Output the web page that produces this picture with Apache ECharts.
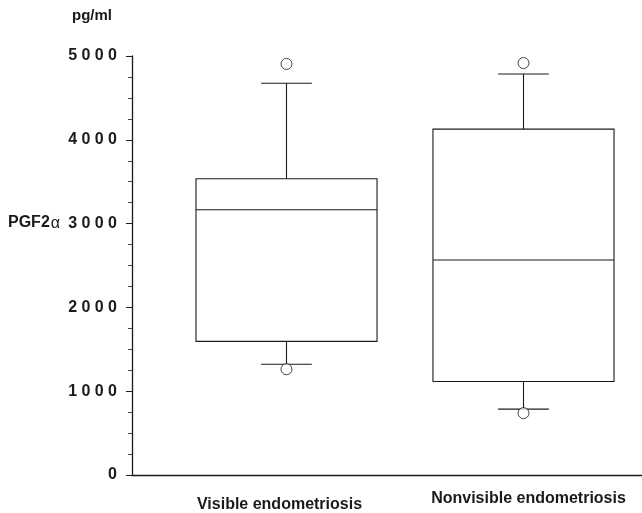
<!DOCTYPE html>
<html>
<head>
<meta charset="utf-8">
<script src="https://cdn.jsdelivr.net/npm/echarts@6/dist/echarts.min.js"></script>
<style>html,body{margin:0;padding:0;background:#fff}#c{width:642px;height:513px}</style>
</head>
<body>
<div id="c"></div>
<script>
// ---- data ----
var categories = ['Visible endometriosis', 'Nonvisible endometriosis'];
var whiskerLow  = [1313, 776];
var q1          = [1587, 1106];
var median      = [3160, 2560];
var q3          = [3532, 4125];
var whiskerHigh = [4674, 4785];
var outliers    = [[0, 4905], [0, 1253], [1, 4916], [1, 728]];
var yTicks      = [0, 1000, 2000, 3000, 4000, 5000];
var yUnit = 'pg/ml';
var yName = 'PGF2';

var FONT = '"Liberation Sans", Arial, Helvetica, sans-serif';
var INK = '#1a1a1a';

var boxData = categories.map(function (c, i) {
  return [i, whiskerLow[i], q1[i], median[i], q3[i], whiskerHigh[i]];
});

var chart = echarts.init(document.getElementById('c'), null, {renderer: 'canvas'});

function renderBox(params, api) {
  var i = api.value(0);
  var pLow = api.coord([i, api.value(1)]);
  var pQ1 = api.coord([i, api.value(2)]);
  var pMed = api.coord([i, api.value(3)]);
  var pQ3 = api.coord([i, api.value(4)]);
  var pHigh = api.coord([i, api.value(5)]);
  var band = api.size([1, 0])[0];
  var hw = band * 0.382;
  var cw = band * 0.107;
  var x = pMed[0];
  var st = {stroke: INK, lineWidth: 1.1, fill: null};
  return {
    type: 'group',
    children: [
      {type: 'rect', shape: {x: x - hw, y: pQ3[1], width: hw * 2, height: pQ1[1] - pQ3[1]}, style: {stroke: INK, lineWidth: 1.1, fill: '#fff'}},
      {type: 'line', shape: {x1: x - hw, y1: pMed[1], x2: x + hw, y2: pMed[1]}, style: st},
      {type: 'line', shape: {x1: x, y1: pQ3[1], x2: x, y2: pHigh[1]}, style: st},
      {type: 'line', shape: {x1: x - cw, y1: pHigh[1], x2: x + cw, y2: pHigh[1]}, style: st},
      {type: 'line', shape: {x1: x, y1: pQ1[1], x2: x, y2: pLow[1]}, style: st},
      {type: 'line', shape: {x1: x - cw, y1: pLow[1], x2: x + cw, y2: pLow[1]}, style: st}
    ]
  };
}

var option = {
  animation: false,
  backgroundColor: '#fff',
  grid: [
    {left: 132, right: 0, top: 56, bottom: 38},
    {left: 168, width: 476, top: 56, bottom: 38}
  ],
  xAxis: [
    {gridIndex: 0, type: 'value', min: 0, max: 1, axisLabel: {show: false}, axisTick: {show: false}, splitLine: {show: false},
     axisLine: {lineStyle: {color: INK, width: 1.3}}},
    {gridIndex: 1, type: 'category', data: [
        {value: categories[0], textStyle: {padding: [6, 14, 0, 0]}},
        {value: categories[1], textStyle: {padding: [0, 0, 0, 10]}}
      ],
     axisLine: {show: false}, axisTick: {show: false}, splitLine: {show: false},
     axisLabel: {interval: 0, hideOverlap: false, margin: 17, fontSize: 16, fontWeight: 'bold', color: INK, fontFamily: FONT, verticalAlign: 'top'}}
  ],
  yAxis: [
    {gridIndex: 0, type: 'value', min: yTicks[0], max: yTicks[yTicks.length - 1], interval: 1000,
     splitLine: {show: false},
     axisLine: {show: true, lineStyle: {color: INK, width: 1.3}},
     axisTick: {show: true, length: 6, lineStyle: {color: INK, width: 1}},
     minorTick: {show: true, splitNumber: 4, length: 4, lineStyle: {color: '#444', width: 1}},
     axisLabel: {margin: 15, color: INK, fontFamily: FONT,
       formatter: function (v) {
         var s = String(v).split('');
         return s.map(function (c, k) { return '{' + (k < s.length - 1 ? 'd' : 'e') + '|' + c + '}'; }).join('');
       },
       rich: {
         d: {padding: [0, 4.4, 0, 0], fontSize: 16, fontWeight: 'bold', color: INK, fontFamily: FONT},
         e: {fontSize: 16, fontWeight: 'bold', color: INK, fontFamily: FONT}
       }}},
    {gridIndex: 1, type: 'value', min: yTicks[0], max: yTicks[yTicks.length - 1], show: false, splitLine: {show: false}}
  ],
  graphic: [
    {type: 'text', left: 72, top: 8, style: {text: yUnit, font: 'bold 15px ' + FONT, fill: INK}},
    {type: 'text', left: 8, top: 215, style: {
      text: '{a|' + yName + '}{b|α}',
      rich: {
        a: {font: 'bold 16px ' + FONT, fill: INK, color: INK},
        b: {font: '16px ' + FONT, fill: INK, color: INK, padding: [2, 0, 0, 1]}
      }}}
  ],
  series: [
    {type: 'custom', xAxisIndex: 1, yAxisIndex: 1, data: boxData, renderItem: renderBox,
     encode: {x: 0, y: [1, 2, 3, 4, 5]}, z: 2},
    {type: 'scatter', xAxisIndex: 1, yAxisIndex: 1, data: outliers, symbol: 'circle', symbolSize: 11,
     itemStyle: {color: '#fff', borderColor: INK, borderWidth: 1}, z: 3}
  ]
};
chart.setOption(option);
</script>
</body>
</html>
